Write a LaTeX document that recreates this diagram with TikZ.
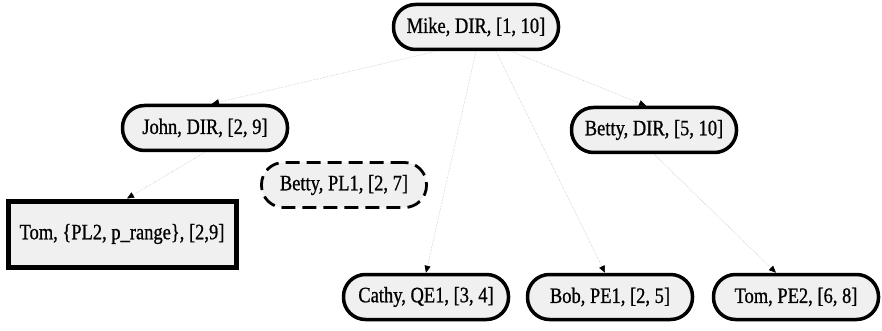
\documentclass[tikz,border=0pt]{standalone}
\usepackage{fontspec}
\setmainfont{Liberation Serif}[FakeStretch=0.84,FakeBold=0.8]
\usetikzlibrary{arrows.meta,positioning}
\definecolor{scanGray}{RGB}{240,240,240}

\begin{document}
\begin{tikzpicture}[x=1pt,y=1pt,
    tnode/.style={draw,line width=3.5pt,rounded corners=22pt,fill=scanGray,
      minimum width=165pt,minimum height=45pt,inner sep=0pt,
      font=\fontsize{22}{26}\selectfont},
    vnode/.style={tnode,line width=2.8pt,dash pattern=on 14pt off 7pt},
    rnode/.style={draw,line width=5pt,fill=scanGray,minimum width=228pt,
      minimum height=66pt,inner sep=0pt,font=\fontsize{22}{26}\selectfont},
    link/.style={draw=gray!55,densely dotted,line width=0.5pt,
      -{Triangle[black,length=7pt,width=6pt]}}]
  \useasboundingbox (0,0) rectangle (882,-331);
  % tree nodes
  \node[tnode] (mike) at (476,-27) {Mike, DIR, [1, 10]};
  \node[tnode] (john) at (205,-128) {John, DIR, [2, 9]};
  \node[tnode] (bettydir) at (654,-130) {Betty, DIR, [5, 10]};
  \node[vnode] (bettypl) at (344,-185) {Betty, PL1, [2, 7]};
  \node[rnode] (tomrange) at (122,-234) {Tom, \{PL2, p\_range\}, [2,9]};
  \node[tnode] (cathy) at (426,-297) {Cathy, QE1, [3, 4]};
  \node[tnode] (bob) at (610,-297) {Bob, PE1, [2, 5]};
  \node[tnode] (tompe) at (796,-297) {Tom, PE2, [6, 8]};
  % links
  \draw[link] ([xshift=-40pt]mike.south) -- ([xshift=7pt]john.north);
  \draw[link] ([xshift=35pt]mike.south) -- ([xshift=-8pt]bettydir.north);
  \draw[link] (mike.south) -- (cathy.north);
  \draw[link] ([xshift=20pt]mike.south) -- ([xshift=-5pt]bob.north);
  \draw[link] (bettydir.south) -- ([xshift=-20pt]tompe.north);
  \draw[link] (john.south) -- ([xshift=5pt]tomrange.north);
\end{tikzpicture}
\end{document}
